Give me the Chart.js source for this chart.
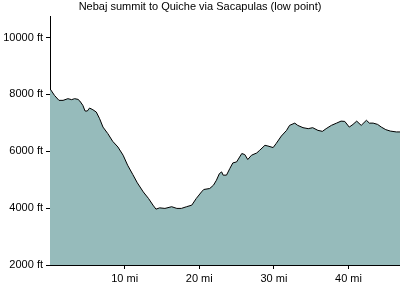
<!DOCTYPE html>
<html>
<head>
<meta charset="utf-8">
<script src="https://cdn.jsdelivr.net/npm/chart.js@4/dist/chart.umd.min.js"></script>
<style>
  html, body { margin: 0; padding: 0; background: #fff; }
  #wrap { width: 400px; height: 300px; position: relative; }
</style>
</head>
<body>
<div id="wrap"><canvas id="profile"></canvas></div>
<script>
// ── DATA ──────────────────────────────────────────────────────────────
const miles = [0, 0.6, 1.2, 1.75, 2.4, 2.9, 3.3, 3.75, 4.0, 4.4, 4.7, 5.0, 5.3, 5.75, 6.2, 6.65, 7.1, 7.75, 8.4, 9.1, 9.8, 10.4, 11.1, 11.7, 12.5, 13.2, 13.8, 14.2, 14.7, 15.4, 16.3, 17.0, 17.6, 18.3, 19.0, 19.6, 20.3, 20.6, 21.4, 21.9, 22.3, 22.7, 23.0, 23.2, 23.65, 24.1, 24.5, 25.0, 25.7, 26.1, 26.5, 27.0, 27.7, 28.1, 28.8, 29.2, 29.9, 30.3, 31.0, 31.7, 32.1, 32.8, 33.2, 33.9, 34.6, 35.2, 35.9, 36.5, 37.0, 37.7, 38.4, 39.0, 39.5, 40.1, 40.6, 41.1, 41.7, 42.4, 42.8, 43.3, 43.9, 44.4, 45.0, 45.6, 46.4, 46.9];
const elevation = [8200, 7965, 7790, 7790, 7850, 7815, 7850, 7825, 7765, 7615, 7415, 7415, 7520, 7460, 7380, 7145, 6850, 6620, 6350, 6150, 5860, 5510, 5180, 4890, 4570, 4340, 4105, 3965, 4010, 3990, 4050, 3990, 3990, 4050, 4105, 4340, 4570, 4655, 4690, 4805, 4980, 5215, 5275, 5160, 5160, 5395, 5590, 5625, 5920, 5885, 5710, 5860, 5940, 6035, 6210, 6185, 6130, 6270, 6535, 6735, 6910, 6990, 6910, 6830, 6795, 6830, 6735, 6700, 6795, 6910, 6990, 7060, 7050, 6850, 6945, 7060, 6910, 7090, 6990, 6990, 6945, 6850, 6760, 6710, 6680, 6680];
const yTicks = [2000, 4000, 6000, 8000, 10000];
const xTicks = [10, 20, 30, 40];

const FONT = { family: "'Liberation Sans', Arial, sans-serif", size: 11 };

new Chart(document.getElementById('profile'), {
  type: 'line',
  data: {
    datasets: [{
      data: miles.map((m, i) => ({ x: m, y: elevation[i] })),
      borderColor: '#000',
      borderWidth: 1,
      backgroundColor: '#96bbbb',
      fill: 'start',
      pointRadius: 0,
      tension: 0
    }]
  },
  options: {
    responsive: true, maintainAspectRatio: false,
    animation: false,
    layout: { padding: { left: 0, right: 0, top: 0, bottom: 0 } },
    plugins: {
      legend: { display: false },
      tooltip: { enabled: false },
      title: {
        display: true,
        text: 'Nebaj summit to Quiche via Sacapulas (low point)',
        color: '#000',
        font: { ...FONT, weight: 'normal', lineHeight: 1.2 },
        padding: { top: 0, bottom: 3 }
      }
    },
    scales: {
      x: {
        type: 'linear', min: 0, max: 46.9,
        afterBuildTicks: s => { s.ticks = xTicks.map(v => ({ value: v })); },
        afterFit: s => { s.height = 35; },
        grid: { drawOnChartArea: false, drawTicks: true, tickLength: 4, color: '#000' },
        border: { display: true, color: '#000', width: 1 },
        ticks: { color: '#000', font: FONT, padding: 3, maxRotation: 0, callback: v => v + ' mi' }
      },
      y: {
        type: 'linear', min: 2000, max: 10750,
        afterBuildTicks: s => { s.ticks = yTicks.map(v => ({ value: v })); },
        afterFit: s => { s.width = 50; },
        grid: { drawOnChartArea: false, drawTicks: true, tickLength: 4, color: '#000' },
        border: { display: true, color: '#000', width: 1 },
        ticks: { color: '#000', font: FONT, padding: 3, callback: v => v + ' ft' }
      }
    }
  }
});
</script>
</body>
</html>
